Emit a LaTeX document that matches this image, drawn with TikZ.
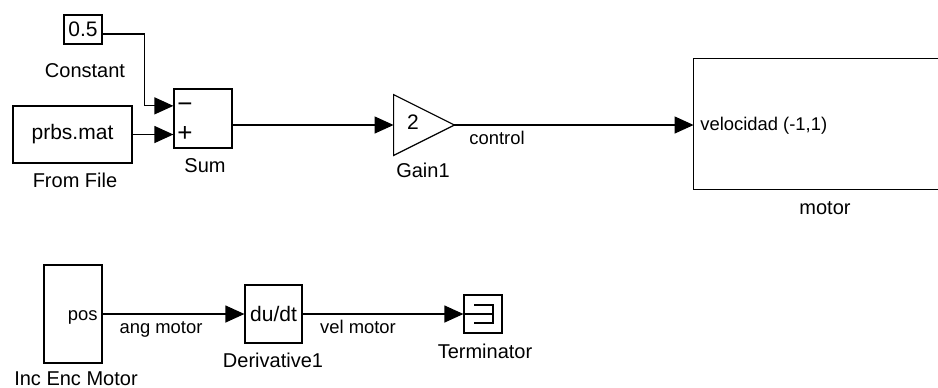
\documentclass[tikz,border=0pt]{standalone}
\usepackage{fontspec}
\setmainfont{Liberation Sans}
\usetikzlibrary{arrows.meta,calc}

\tikzset{
  >={Triangle[length=9.5pt,width=8.5pt]},   % filled arrow tip
  blk/.style={draw, line width=0.6pt, inner sep=0pt, font=\fontsize{10.5}{12}\selectfont},
  txt/.style={anchor=base, inner sep=0pt},
  blkname/.style={txt, font=\fontsize{10}{12}\selectfont},
  sign/.style={txt, font=\fontsize{13}{14}\selectfont},
  wire/.style={line width=0.6pt, ->}
}

\begin{document}
\begin{tikzpicture}[x=0.5pt,y=-0.5pt,font=\fontsize{9.2}{11}\selectfont]
	\useasboundingbox (0,0) rectangle (938,387);
	% top blocks
	\node[blk, minimum width=19pt, minimum height=14.5pt] (const) at (83,29.5) {0.5};
	\node[blk, minimum width=59.5pt, minimum height=28.5pt] (file) at (72.5,134.5) {prbs.mat};
	\node[blk, minimum width=29pt, minimum height=29.5pt] (sum) at (203,118.5) {};
	\node[inner sep=0pt, minimum width=30pt, minimum height=30pt] (gain) at (424,125) {};
	\draw[line width=0.6pt] (gain.north west) -- (gain.east) -- (gain.south west) -- cycle;
	\node[inner sep=0pt, minimum width=122pt, minimum height=65pt] (motor) at (816,124) {};
	\draw[line width=0.6pt] (motor.north east) -- (motor.north west)
			-- (motor.south west) -- (motor.south east);

	% texts inside
	\node[sign] (minus) at (185,112) {−};
	\node[sign] (plus) at (185,141) {+};
	\node[txt, font=\fontsize{10.5}{12}\selectfont] (gainval) at (413,129) {2};
	\node[txt, anchor=base west] (vel) at (700,130) {velocidad (-1,1)};

	% block names
	\node[blkname] (constname) at (85,77) {Constant};
	\node[blkname] (filename) at (75,187) {From File};
	\node[blkname] (sumname) at (205,172) {Sum};
	\node[blkname] (gainname) at (423,177) {Gain1};
	\node[blkname] (motorname) at (825,214) {motor};
	\node[txt] (control) at (497,144) {control};

	% top wires
	\draw[wire] ([yshift=-2.25pt]const.east) -- ++(42,0)
			|- ($(sum.north west)!0.29!(sum.south west)$);
	\draw[wire] (file.east) -- (file.east -| sum.west);
	\draw[wire] (sum.east |- gain.west) -- (gain.west);
	\draw[wire] (gain.east) -- (gain.east -| motor.west);

	% bottom blocks
	\node[blk, minimum width=29pt, minimum height=49pt] (inc) at (73,314) {};
	\node[blk, minimum width=28.5pt, minimum height=29pt] (deriv) at (273.5,314) {du/dt};
	\node[blk, minimum width=19pt, minimum height=19pt] (term) at (483,314) {};
	\draw[line width=0.6pt] ($(term.center)+(-9,-9)$) -- ++(19,0) -- ++(0,18) -- ++(-19,0);
	\draw[line width=0.6pt] (term.west) -- ($(term.center)+(10,0)$);
	\node[txt, anchor=base east] (pos) at (98,320) {pos};

	\node[blkname] (incname) at (76,385) {Inc Enc Motor};
	\node[blkname] (derivname) at (273,367) {Derivative1};
	\node[blkname] (termname) at (485,358) {Terminator};
	\node[txt] (ang) at (161,333) {ang motor};
	\node[txt] (velmotor) at (358,333) {vel motor};

	% bottom wires
	\draw[wire] (inc.east) -- (deriv.west);
	\draw[wire] (deriv.east) -- (term.west);
\end{tikzpicture}
\end{document}
